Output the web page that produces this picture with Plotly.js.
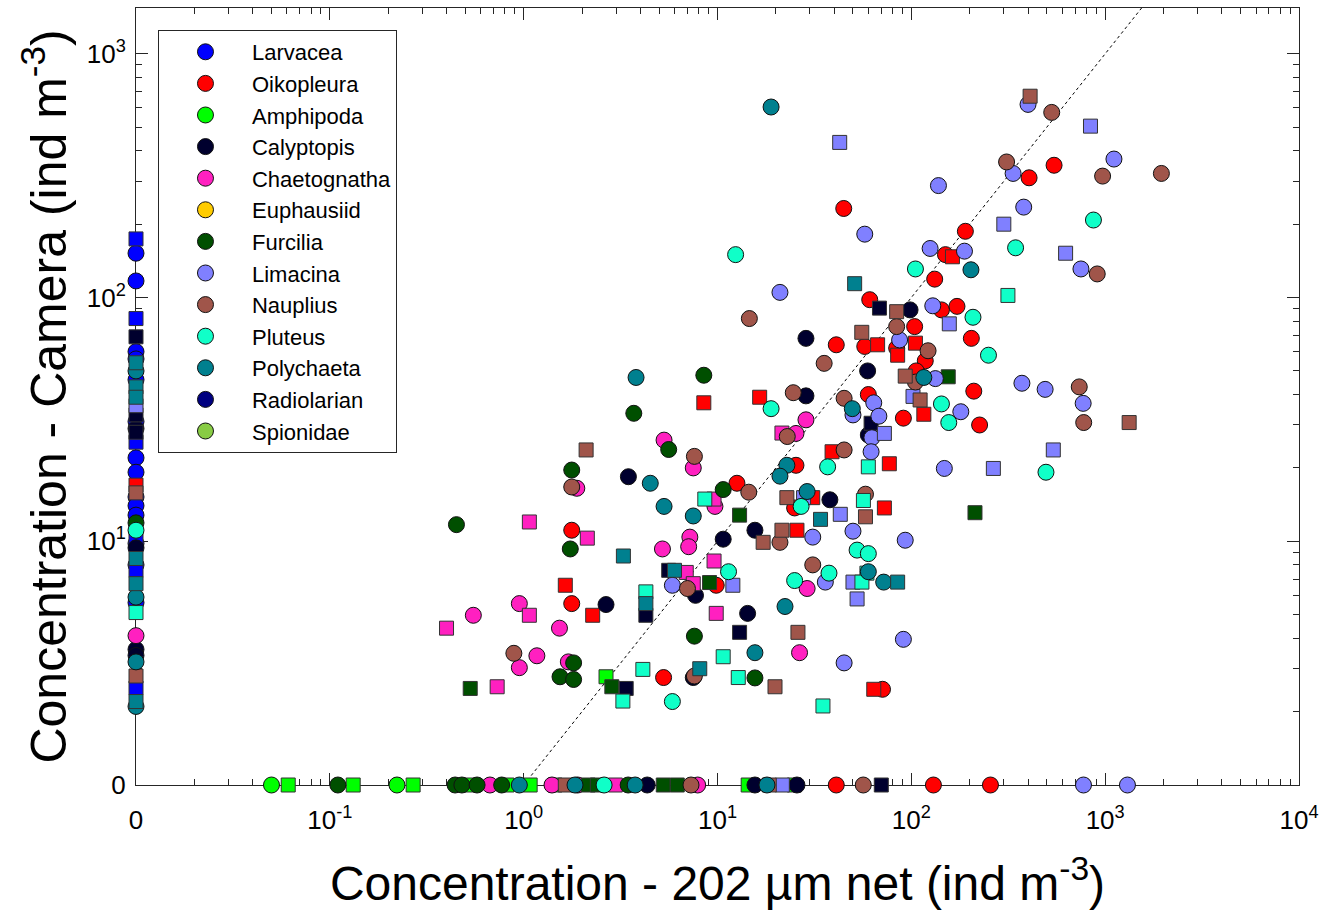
<!DOCTYPE html>
<html><head><meta charset="utf-8">
<script src="https://cdn.plot.ly/plotly-3.0.1.min.js"></script>
<style>body{margin:0;background:#fff}#chart{width:1321px;height:912px}</style>
</head><body><div id="chart"></div>
<script>
// Species, legend order
const species = ['Larvacea','Oikopleura','Amphipoda','Calyptopis','Chaetognatha','Euphausiid','Furcilia','Limacina','Nauplius','Pluteus','Polychaeta','Radiolarian','Spionidae'];
const colors = ['#0000ff','#ff0000','#00ff00','#00002e','#ff20c0','#ffcc00','#004f00','#8080ff','#a0554a','#10ffc8','#00808f','#000080','#88cc44'];

// [net concentration, camera concentration] ; 0 = zero value (drawn on the axis)
const larvaceaCircles = [[0,152],[0,117],[0,60],[0,56],[0,46],[0,31],[0,22],[0,19.2],[0,15.2],[0,14],[0,12.8],[0,9.8],[0,8.0],[0,5.6]];
const larvaceaSquares = [[0,174],[0,82],[0,25.5],[0,10.3],[0,7.6],[0,2.5]];
const oikopleuraCircles = [[1.77,11.1],[1.77,5.55],[5.27,2.76],[61,98],[41,64],[57.5,63],[84,62],[104,76],[60,40],[91,32],[25.4,20.5],[12.6,17.3],[25,13.7],[9.85,6.6],[71,2.47],[545,349],[405,310],[190,187],[150,150],[132,119],[143,89],[172,92],[204,68],[118,55],[106,50],[210,41.3],[225,30],[44.8,232],[41,0],[130,0],[256,0]];
const oikopleuraSquares = [[8.5,37],[1.64,6.6],[2.27,4.97],[67,64],[85,58],[16.5,39],[39,23.3],[77,20.8],[31,15.1],[72.6,13.7],[25.7,11.1],[64,2.47],[163,147],[105,65],[116,33.2],[0,17]];
const amphipodaCircles = [[0.05,0],[0.222,0]];
const amphipodaSquares = [[0.061,0],[0.132,0],[0.269,0],[0.53,0],[0.82,0],[1.08,0],[1.45,0],[14.4,0],[24.9,0],[2.66,2.78]];
const calyptopisCircles = [[3.47,18.4],[2.66,5.5],[7.7,6.0],[7.5,2.76],[28.6,68],[59.5,50],[28.6,39.5],[60,27.3],[38,14.8],[15.6,11.1],[10.7,10.2],[14.3,5.06],[98.5,89],[4.34,0],[15.6,0],[25.7,0],[0,29],[0,9.4],[0,3.6],[0,3.4]];
const calyptopisSquares = [[5.6,7.6],[4.27,4.97],[3.38,2.49],[68.5,90.5],[62,30.5],[13,4.23],[70,0],[0,69],[0,33],[0,28]];
const chaetognathaCircles = [[5.3,26],[7.5,20],[1.88,16.5],[5.2,9.3],[7.2,10.4],[7.1,9.5],[0.95,5.55],[0.55,4.97],[1.53,4.4],[1.17,3.39],[0.95,3.03],[1.7,3.2],[28.6,31.5],[25.4,27.7],[9.7,13.9],[29,6.4],[26.5,3.49],[0.67,0],[1.4,0],[1.9,0],[7.9,0],[0,4.1]];
const chaetognathaSquares = [[1.07,12.0],[2.13,10.3],[6.9,7.45],[7.5,6.7],[1.07,4.97],[0.40,4.4],[0.73,2.53],[21.5,27.8],[9.6,14.9],[9.6,8.3],[9.85,5.06],[2.97,0]];
const euphausiidCircles = [[null,null]];
const euphausiidSquares = [];
const furciliaCircles = [[8.5,48],[3.7,33.5],[5.6,23.8],[1.77,19.6],[0.45,11.7],[1.74,9.3],[7.6,4.08],[1.81,3.17],[1.54,2.78],[1.81,2.71],[10.7,16.3],[15.6,2.75],[0.11,0],[0.443,0],[0.48,0],[0.575,0],[0.77,0],[3.46,0],[0,11.9]];
const furciliaSquares = [[0.53,2.49],[2.85,2.53],[13,12.8],[9.1,6.77],[155,47.3],[213,13.1],[2.15,0],[2.4,0],[5.25,0],[6.2,0]];
const limacinaCircles = [[21,105],[87,67],[50,33],[64,37],[68,32.6],[62.6,26.6],[62,23.3],[31,10.4],[50,11.0],[93,10.1],[5.85,6.6],[36,6.8],[91,3.96],[45,3.17],[400,620],[335,323],[1110,370],[138,288],[380,235],[125,159],[188,155],[750,131],[129,92.5],[133,46.5],[372,44.5],[490,42],[770,36.8],[180,34],[148,19.9],[57.5,182],[773,0],[1303,0]];
const limacinaSquares = [[72.6,27.7],[27.8,15.1],[43,12.9],[12,6.6],[50,6.8],[52.5,5.8],[840,505],[300,200],[625,152],[157,78],[102,39.3],[540,23.7],[265,19.9],[42.7,433],[21.6,0],[0,36]];
const naupliusCircles = [[7.6,22.3],[1.77,16.7],[7.0,6.4],[0.89,3.47],[7.6,2.8],[14.6,82],[84,76],[35.5,53.7],[24.6,40.7],[45,38.6],[22.9,26.9],[45,23.7],[14.5,15.9],[58,15.6],[21,9.9],[31,8.0],[530,575],[310,360],[970,315],[1950,323],[910,125],[122,60.5],[105,45],[735,43],[775,30.7],[7.3,0],[56.5,0]];
const naupliusSquares = [[2.1,23.7],[84,87.5],[55.5,72],[93,47.6],[22.8,15.1],[58,12.6],[21.5,11.1],[17.2,9.9],[26,4.23],[19.8,2.53],[410,670],[111,38],[1330,30.7],[1.64,0],[18.5,0],[0,15.8],[0,2.8]];
const pluteusCircles = [[18.9,35],[37,20.2],[27,13.9],[11.4,7.5],[37.6,7.4],[25,6.9],[52.5,9.2],[60,8.9],[5.85,2.2],[870,208],[345,160],[105,131],[208,83],[250,58],[143,36.6],[156,30.7],[495,19.2],[12.4,150],[2.6,0],[0,11.1]];
const pluteusSquares = [[8.6,14.9],[4.27,6.2],[3.25,2.21],[4.12,2.98],[60,20.2],[56.6,14.7],[59,7.4],[55.6,6.8],[10.7,3.36],[12.8,2.76],[35,2.11],[315,102],[0,5.1]];
const polychaetaCircles = [[3.8,47],[4.5,17.3],[5.3,13.9],[7.5,12.7],[49.6,35],[22.8,20.5],[21,18.5],[29,16],[60,7.5],[72,6.8],[22.3,5.4],[15.6,3.49],[203,130],[116,47],[18.9,605],[0.95,0],[1.84,0],[3.76,0],[18,0],[0,50],[0,5.9],[0,3.2],[0,2.1]];
const polychaetaSquares = [[3.27,8.7],[6.0,7.6],[4.27,5.55],[8.1,3.0],[34,12.3],[85,6.8],[51,114],[0,54],[0,43],[0,39],[0,8.5],[0,6.7],[0,2.2]];
const radiolarianCircles = [[null,null]];
const radiolarianSquares = [];
const spionidaeCircles = [[null,null]];
const spionidaeSquares = [];

const circleSets = [larvaceaCircles,oikopleuraCircles,amphipodaCircles,calyptopisCircles,chaetognathaCircles,euphausiidCircles,furciliaCircles,limacinaCircles,naupliusCircles,pluteusCircles,polychaetaCircles,radiolarianCircles,spionidaeCircles];
const squareSets = [larvaceaSquares,oikopleuraSquares,amphipodaSquares,calyptopisSquares,chaetognathaSquares,euphausiidSquares,furciliaSquares,limacinaSquares,naupliusSquares,pluteusSquares,polychaetaSquares,radiolarianSquares,spionidaeSquares];

// tick labels
const xTickVals = [0.01,0.1,1,10,100,1000,10000];
const xTickText = ['0','10<sup>-1</sup>','10<sup>0</sup>','10<sup>1</sup>','10<sup>2</sup>','10<sup>3</sup>','10<sup>4</sup>'];
const yTickVals = [1,10,100,1000];
const yTickText = ['0','10<sup>1</sup>','10<sup>2</sup>','10<sup>3</sup>'];
const oneToOne = [1,10000];

const X_ZERO = 0.01, Y_ZERO = 1;
const mx = v => v === 0 ? X_ZERO : v;
const my = v => v === 0 ? Y_ZERO : v;

function minorTicks(lo, hi){ const out=[]; for(let e=lo;e<hi;e++){ for(let k=2;k<=9;k++) out.push(k*Math.pow(10,e)); } return out; }

const FONT = 'Arial, "Liberation Sans", sans-serif';
const INK = '#262626';

const traces = [{
  type:'scatter', mode:'lines', x:oneToOne, y:oneToOne, showlegend:false, hoverinfo:'skip',
  line:{color:'#000', width:1, dash:'dot'}
}];
species.forEach((name,i)=>{
  traces.push({
    type:'scatter', mode:'markers', name:name, legendgroup:name, showlegend:true, cliponaxis:false,
    x:circleSets[i].map(p=>p[0]===null?null:mx(p[0])), y:circleSets[i].map(p=>p[1]===null?null:my(p[1])),
    marker:{symbol:'circle', size:16, color:colors[i], line:{color:'#111', width:1}}
  });
  traces.push({
    type:'scatter', mode:'markers', name:name, legendgroup:name, showlegend:false, cliponaxis:false,
    x:squareSets[i].map(p=>mx(p[0])), y:squareSets[i].map(p=>my(p[1])),
    marker:{symbol:'square', size:14, color:colors[i], line:{color:'#333', width:1}}
  });
});

const TICKFONT = {family:FONT, size:26, color:'#000'};
const axisCommon = {
  type:'log', tickmode:'array', ticks:'inside', ticklen:12, tickwidth:1, tickcolor:INK,
  showline:true, linecolor:INK, linewidth:1, mirror:'allticks', showgrid:false, zeroline:false,
  layer:'below traces', automargin:false
};

const layout = {
  width:1321, height:912,
  margin:{l:136, r:22, t:8, b:127},
  paper_bgcolor:'#fff', plot_bgcolor:'#fff',
  font:{family:FONT, color:'#000', size:26},
  xaxis: Object.assign({}, axisCommon, {
    range:[-2,4], tickvals:xTickVals, ticktext:xTickText, tickfont:TICKFONT, ticklabelstandoff:12,
    minor:{tickmode:'array', tickvals:minorTicks(-2,4), ticks:'inside', ticklen:6, tickcolor:INK, showgrid:false},
    title:{text:'Concentration - 202 µm net (ind m<sup>-3</sup>)', font:{family:FONT, size:48, color:'#000'}, standoff:32}
  }),
  yaxis: Object.assign({}, axisCommon, {
    range:[0,3.188], tickvals:yTickVals, ticktext:yTickText, tickfont:TICKFONT, ticklabelstandoff:4,
    minor:{tickmode:'array', tickvals:minorTicks(0,4), ticks:'inside', ticklen:6, tickcolor:INK, showgrid:false},
    title:{text:'Concentration - Camera (ind m<sup>-3</sup>)', font:{family:FONT, size:50, color:'#000'}, standoff:4}
  }),
  legend:{x:0.0189, y:0.9717, xanchor:'left', yanchor:'top', bgcolor:'#fff', bordercolor:INK, borderwidth:1,
    font:{family:FONT, size:22, color:'#000'}, tracegroupgap:0, itemwidth:83, traceorder:'grouped'},
  showlegend:true
};

Plotly.newPlot('chart', traces, layout, {displayModeBar:false, staticPlot:true});
</script>
</body></html>
